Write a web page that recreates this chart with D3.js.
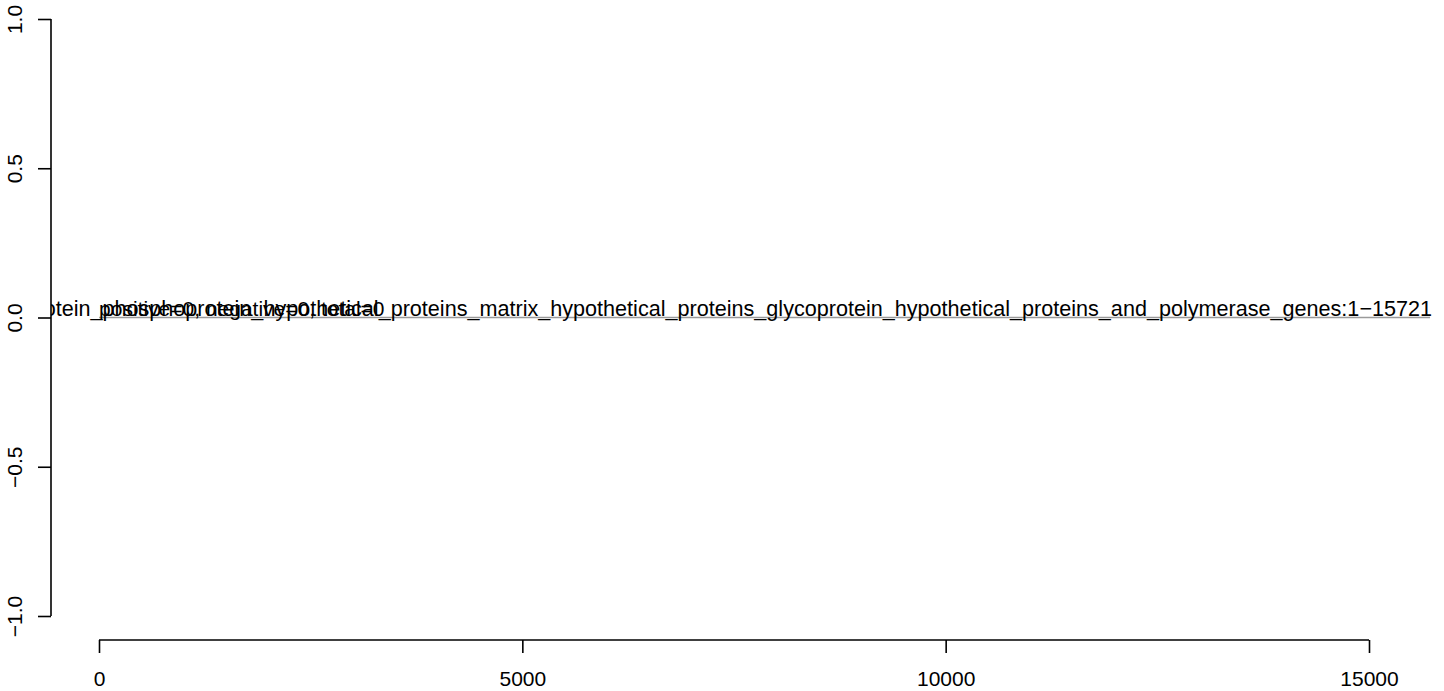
<!DOCTYPE html>
<html>
<head>
<meta charset="utf-8">
<script src="https://cdn.jsdelivr.net/npm/d3@7"></script>
<style>
  body { margin: 0; background: #fff; }
  text { font-family: "Liberation Sans", Arial, sans-serif; }
</style>
</head>
<body>
<script>
// chart data
var segStart = [1];
var segEnd = [15721];
var segValue = [0];
var segLabels = ["nucleoprotein_phosphoprotein_hypothetical_proteins_matrix_hypothetical_proteins_glycoprotein_hypothetical_proteins_and_polymerase_genes:1\u221215721"];
var countLabels = ["positive=0, negative=0, total=0"];
var xTicks = [0, 5000, 10000, 15000];
var yTicks = [-1, -0.5, 0, 0.5, 1];
var yTickLabels = ["\u22121.0", "\u22120.5", "0.0", "0.5", "1.0"];

var w = 1444, h = 691;
var fontSize = 21;

var svg = d3.select("body")
    .append("svg")
    .attr("width", w)
    .attr("height", h);

var x = d3.scaleLinear().domain([0, 15000]).range([99, 1369]);
var y = d3.scaleLinear().domain([-1, 1]).range([616, 19]);

// clip to plot region (left edge at y axis)
svg.append("clipPath")
    .attr("id", "plotClip")
    .append("rect")
    .attr("x", 51)
    .attr("y", 0)
    .attr("width", w - 51)
    .attr("height", h);

var plot = svg.append("g").attr("clip-path", "url(#plotClip)");

// segment line
plot.selectAll(".seg")
    .data(segStart)
    .enter()
    .append("line")
    .attr("class", "seg")
    .attr("x1", function(d){ return x(d); })
    .attr("x2", function(d, i){ return x(segEnd[i]); })
    .attr("y1", function(d, i){ return y(segValue[i]); })
    .attr("y2", function(d, i){ return y(segValue[i]); })
    .style("stroke", "#9a9a9a")
    .style("stroke-width", 1.6);

// segment label, right aligned at segment end
plot.selectAll(".segLabel")
    .data(segLabels)
    .enter()
    .append("text")
    .attr("class", "segLabel")
    .attr("x", function(d, i){ return x(segEnd[i]) + 2; })
    .attr("y", function(d, i){ return y(segValue[i]) - 1.5; })
    .attr("text-anchor", "end")
    .style("font-size", "21.6px")
    .text(function(d){ return d; });

// count label, left aligned at segment start
plot.selectAll(".countLabel")
    .data(countLabels)
    .enter()
    .append("text")
    .attr("class", "countLabel")
    .attr("x", function(d, i){ return x(segStart[i]); })
    .attr("y", function(d, i){ return y(segValue[i]) - 1.5; })
    .attr("text-anchor", "start")
    .style("font-size", "21px")
    .text(function(d){ return d; });

// x axis
var xAxis = svg.append("g")
    .attr("transform", "translate(0,640)")
    .call(d3.axisBottom(x).tickValues(xTicks).tickSize(13).tickFormat(d3.format("d")));
xAxis.select(".domain").remove();
xAxis.append("line")
    .attr("x1", x(xTicks[0]))
    .attr("x2", x(xTicks[xTicks.length - 1]))
    .style("stroke", "#000")
    .style("stroke-width", 1.6);
xAxis.selectAll(".tick line").style("stroke-width", 1.6);
xAxis.selectAll("text")
    .attr("y", 46)
    .attr("dy", 0)
    .attr("fill", "#000")
    .style("font-size", fontSize + "px")
    .style("font-family", "Liberation Sans, Arial, sans-serif");

// y axis
var yAxis = svg.append("g")
    .attr("transform", "translate(51,0)")
    .call(d3.axisLeft(y).tickValues(yTicks).tickSize(13)
        .tickFormat(function(d, i){ return yTickLabels[i]; }));
yAxis.select(".domain").remove();
yAxis.append("line")
    .attr("y1", y(yTicks[0]))
    .attr("y2", y(yTicks[yTicks.length - 1]))
    .style("stroke", "#000")
    .style("stroke-width", 1.6);
yAxis.selectAll(".tick line").style("stroke-width", 1.6);
yAxis.selectAll("text")
    .attr("x", 0)
    .attr("dy", 0)
    .attr("transform", "translate(-29,0) rotate(-90)")
    .attr("text-anchor", "middle")
    .attr("fill", "#000")
    .style("font-size", fontSize + "px")
    .style("font-family", "Liberation Sans, Arial, sans-serif");
</script>
</body>
</html>
